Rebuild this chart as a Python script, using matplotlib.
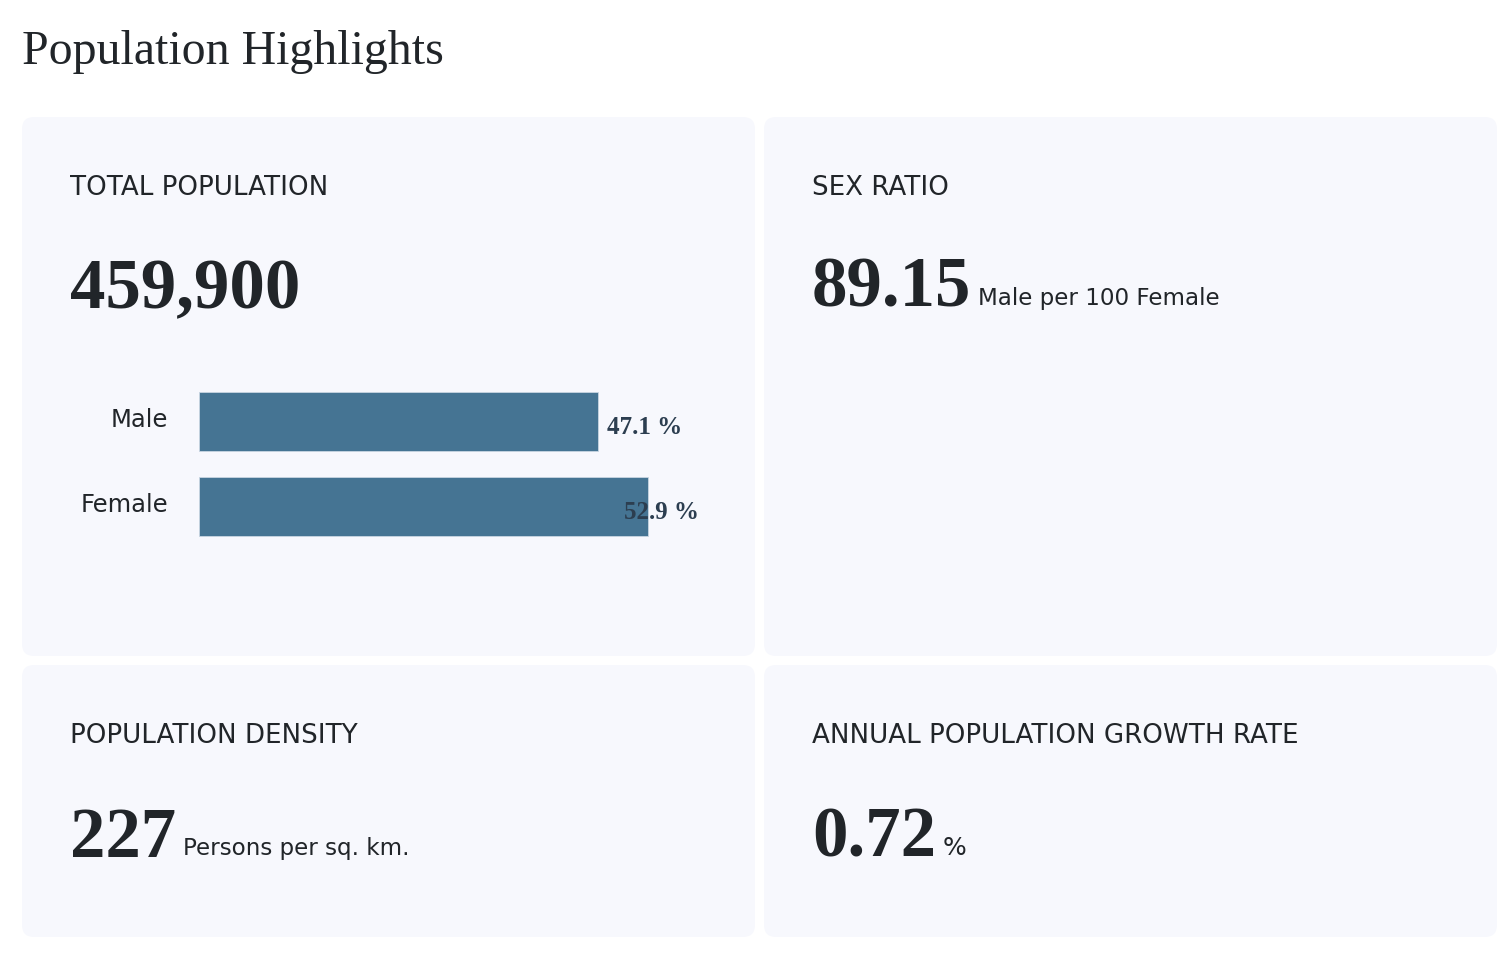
import matplotlib
matplotlib.use("Agg")
import matplotlib.pyplot as plt
from matplotlib.patches import FancyBboxPatch
from matplotlib.transforms import ScaledTranslation

# ---- data ----
categories = ["Male", "Female"]
share_pct = [47.1, 52.9]

card_titles = ["TOTAL POPULATION", "SEX RATIO",
               "POPULATION DENSITY", "ANNUAL POPULATION GROWTH RATE"]
card_values = ["459,900", "89.15", "227", "0.72"]
card_units = ["", "Male per 100 Female", "Persons per sq. km.", "%"]

# ---- style ----
W, H = 1510, 954
BG_CARD = "#f7f8fd"
TXT = "#212529"
BAR = "#457493"
LBL = "#2c3e50"
SERIF = ["Liberation Serif", "DejaVu Serif"]
SANS = ["DejaVu Sans"]

# card boxes in pixels: x0, y0, x1, y1
card_boxes = [(22, 118, 755, 657), (764, 118, 1497, 657),
              (22, 666, 755, 938), (764, 666, 1497, 938)]
title_base = [195, 195, 743, 743]
value_base = [308, 307, 857, 857]
unit_size = [16.6, 16.6, 16.6, 18]

fig = plt.figure(figsize=(W / 100, H / 100), dpi=100)
fig.patch.set_facecolor("white")
ax = fig.add_axes([0, 0, 1, 1])
ax.set_xlim(0, W)
ax.set_ylim(H, 0)
ax.axis("off")

ax.text(22, 64, "Population Highlights", family=SERIF, fontsize=34.5,
        color=TXT, va="baseline", ha="left")

value_texts = []
for i, (x0, y0, x1, y1) in enumerate(card_boxes):
    ax.add_patch(FancyBboxPatch((x0, y0), x1 - x0, y1 - y0,
                                boxstyle="round,pad=0,rounding_size=12",
                                fc=BG_CARD, ec="none"))
    ax.text(x0 + 48, title_base[i], card_titles[i], family=SANS,
            fontsize=18.8, color=TXT, va="baseline", ha="left")
    t = ax.text(x0 + 48, value_base[i], card_values[i], family=SERIF,
                fontsize=51, fontweight="bold", color=TXT,
                va="baseline", ha="left")
    value_texts.append(t)

# place units right after the big numbers
fig.canvas.draw()
renderer = fig.canvas.get_renderer()
inv = ax.transData.inverted()
for i, t in enumerate(value_texts):
    if not card_units[i]:
        continue
    bb = t.get_window_extent(renderer)
    x_end = inv.transform((bb.x1, bb.y0))[0]
    ax.text(x_end + 7, value_base[i] - 2, card_units[i], family=SANS,
            fontsize=unit_size[i], color=TXT, va="baseline", ha="left")

# ---- gender bar chart ----
px_per_pct = 8.48
left, top, bottom = 199, 380, 550
xmax = 60
bax = fig.add_axes([left / W, 1 - bottom / H, xmax * px_per_pct / W,
                    (bottom - top) / H])
bax.patch.set_alpha(0)
ypos = list(range(len(categories)))
bax.barh(ypos, share_pct, height=0.69, color=BAR, edgecolor="#c9d6e2",
         linewidth=0.6)
span = (bottom - top) / 85.5
bax.set_ylim(0.5 + span / 2, 0.5 - span / 2)
bax.set_xlim(0, xmax)
bax.set_yticks(ypos)
bax.set_yticklabels(categories, family=SANS, fontsize=17.5, color=TXT)
bax.tick_params(axis="y", length=0, pad=22)
bax.set_xticks([])
for s in bax.spines.values():
    s.set_visible(False)
lift = ScaledTranslation(0, 5 / 100, fig.dpi_scale_trans)
for lab in bax.get_yticklabels():
    lab.set_transform(lab.get_transform() + lift)

label_shift = [1.06, -2.83]
for i, v in enumerate(share_pct):
    bax.text(v + label_shift[i], i + 0.06, f"{v} %", family=SERIF,
             fontsize=18, fontweight="bold", color=LBL,
             va="center", ha="left")

fig.savefig("out.png", dpi=100, facecolor="white")
